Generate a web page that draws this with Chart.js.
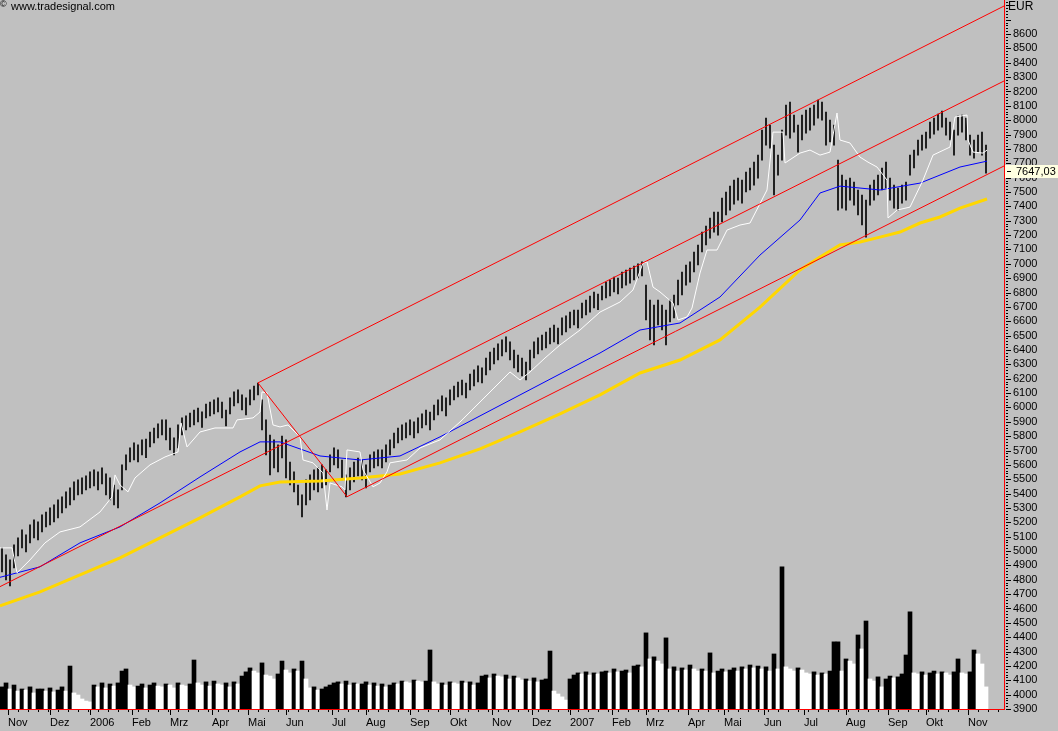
<!DOCTYPE html>
<html>
<head>
<meta charset="utf-8">
<title>DAX</title>
<script src="https://cdn.jsdelivr.net/npm/chart.js@4.4.0/dist/chart.umd.min.js"></script>
<style>
  html, body { margin: 0; padding: 0; background: #c0c0c0; overflow: hidden; }
  canvas { display: block; }
</style>
</head>
<body>
<canvas id="chart" width="1058" height="731"></canvas>
<script>
// bars: one bar every 2 trading days, starting end of Oct 2005
const highs = [
  5022, 4973, 4938, 5043, 5092, 5147, 5112, 5182, 5217, 5203,
  5252, 5272, 5300, 5321, 5356, 5377, 5412, 5440, 5481, 5495,
  5509, 5523, 5551, 5565, 5551, 5579, 5537, 5509, 5460, 5426,
  5600, 5669, 5718, 5753, 5739, 5774, 5780, 5829, 5857, 5885,
  5913, 5913, 5857, 5788, 5878, 5927, 5941, 5961, 5982, 5996,
  5970, 6024, 6038, 6052, 6066, 6038, 5982, 6066, 6108, 6122,
  6087, 6066, 6122, 6149, 6170, 6052, 5913, 5808, 5774, 5739,
  5801, 5774, 5620, 5551, 5460, 5391, 5495, 5530, 5565, 5579,
  5600, 5565, 5669, 5718, 5704, 5634, 5530, 5579, 5620, 5648,
  5634, 5600, 5669, 5690, 5704, 5704, 5739, 5774, 5822, 5857,
  5878, 5892, 5913, 5899, 5927, 5955, 5982, 5968, 6017, 6052,
  6080, 6066, 6122, 6149, 6177, 6191, 6170, 6233, 6261, 6289,
  6275, 6344, 6386, 6414, 6442, 6470, 6491, 6456, 6400, 6365,
  6344, 6316, 6400, 6456, 6484, 6504, 6525, 6553, 6574, 6553,
  6623, 6637, 6664, 6678, 6678, 6727, 6748, 6776, 6804, 6790,
  6845, 6873, 6887, 6908, 6900, 6943, 6957, 6971, 6985, 6999,
  7013, 6852, 6748, 6713, 6748, 6713, 6678, 6748, 6783, 6887,
  6943, 6992, 7013, 7082, 7131, 7221, 7263, 7319, 7360, 7360,
  7458, 7500, 7541, 7583, 7597, 7583, 7639, 7667, 7708, 7757,
  7931, 8015, 7966, 7827, 7757, 7931, 8105, 8126, 8036, 7966,
  8036, 8070, 8084, 8105, 8140, 8126, 8056, 8001, 7966, 7722,
  7618, 7583, 7597, 7569, 7514, 7479, 7444, 7548, 7583, 7618,
  7667, 7708, 7597, 7548, 7528, 7548, 7569, 7757, 7792, 7862,
  7896, 7917, 7987, 8015, 8043, 8063, 8015, 7987, 7931, 8029,
  8036, 8015, 7896, 7862, 7896, 7917, 7827
];
const lows = [
  4855, 4799, 4757, 4883, 4966, 5022, 4994, 5057, 5092, 5078,
  5133, 5168, 5182, 5203, 5231, 5265, 5300, 5321, 5356, 5391,
  5398, 5426, 5440, 5454, 5426, 5467, 5391, 5356, 5321, 5300,
  5426, 5565, 5620, 5634, 5620, 5669, 5650, 5725, 5753, 5788,
  5808, 5774, 5704, 5669, 5718, 5808, 5843, 5864, 5878, 5899,
  5860, 5927, 5941, 5955, 5968, 5927, 5871, 5955, 6010, 6031,
  5982, 5948, 6017, 6052, 6087, 5843, 5669, 5530, 5579, 5551,
  5648, 5509, 5460, 5412, 5321, 5238, 5321, 5356, 5426, 5412,
  5440, 5460, 5551, 5600, 5579, 5495, 5377, 5426, 5481, 5523,
  5495, 5440, 5551, 5579, 5593, 5579, 5620, 5669, 5718, 5753,
  5774, 5788, 5808, 5788, 5822, 5857, 5878, 5843, 5913, 5948,
  5975, 5941, 6017, 6052, 6073, 6087, 6066, 6122, 6149, 6177,
  6170, 6226, 6261, 6303, 6330, 6358, 6386, 6330, 6275, 6247,
  6219, 6191, 6261, 6344, 6372, 6400, 6414, 6442, 6456, 6442,
  6504, 6525, 6553, 6574, 6553, 6623, 6644, 6664, 6692, 6680,
  6748, 6762, 6776, 6804, 6790, 6832, 6852, 6866, 6887, 6901,
  6915, 6609, 6470, 6435, 6574, 6539, 6435, 6595, 6623, 6713,
  6783, 6852, 6873, 6943, 6992, 7082, 7131, 7179, 7221, 7200,
  7291, 7340, 7374, 7416, 7444, 7423, 7500, 7514, 7548, 7597,
  7722, 7827, 7806, 7479, 7618, 7722, 7896, 7875, 7917, 7778,
  7862, 7910, 7931, 7966, 8015, 8001, 7827, 7848, 7827, 7374,
  7388, 7374, 7444, 7409, 7340, 7270, 7186, 7409, 7444, 7479,
  7514, 7528, 7444, 7388, 7374, 7423, 7444, 7618, 7667, 7757,
  7792, 7806, 7875, 7903, 7931, 7952, 7896, 7862, 7757, 7896,
  7917, 7862, 7757, 7736, 7778, 7757, 7632
];
// volume in millions, same slots as the bars
const volume = [
  106, 125, 96, 115, 86, 96, 91, 106, 77, 96,
  96, 86, 101, 82, 91, 106, 86, 206, 77, 67,
  48, 38, 34, 115, 106, 125, 101, 120, 110, 125,
  182, 192, 115, 106, 110, 120, 101, 115, 125, 110,
  106, 120, 115, 101, 125, 115, 110, 120, 235, 125,
  115, 130, 110, 134, 120, 115, 125, 106, 130, 120,
  158, 178, 197, 182, 173, 221, 163, 158, 144, 168,
  230, 187, 173, 192, 182, 230, 144, 101, 106, 91,
  96, 106, 115, 125, 130, 120, 134, 115, 125, 120,
  120, 130, 115, 125, 110, 120, 106, 115, 125, 120,
  134, 130, 125, 139, 134, 130, 134, 283, 130, 120,
  125, 115, 130, 125, 120, 134, 125, 130, 115, 125,
  158, 163, 149, 168, 158, 154, 163, 144, 158, 149,
  139, 144, 134, 149, 130, 139, 144, 278, 86, 72,
  58, 43, 144, 163, 173, 168, 178, 163, 173, 168,
  178, 182, 173, 192, 178, 182, 187, 173, 206, 211,
  202, 365, 240, 250, 230, 216, 341, 192, 202, 182,
  197, 187, 211, 192, 182, 192, 182, 269, 173, 182,
  192, 178, 187, 197, 182, 202, 192, 211, 197, 206,
  192, 202, 182, 264, 192, 682, 202, 192, 182, 197,
  187, 173, 168, 178, 163, 173, 168, 182, 322, 322,
  182, 240, 230, 216, 355, 288, 422, 144, 134, 154,
  106, 144, 158, 149, 154, 168, 259, 466, 173, 168,
  178, 163, 173, 182, 168, 178, 173, 163, 178, 240,
  173, 168, 178, 283, 264, 216, 106
];
const lastClose = 7647.03;

// moving averages, read at trading-day positions
const whiteDays = [0, 6, 8.5, 15, 22.5, 30, 40, 50, 56, 57.5, 60, 64, 67.5, 75, 82.5, 89, 90.5, 93.5, 100, 107.5,
  116.5, 118.5, 126.5, 130, 131, 133.5, 136.5, 140, 144, 150, 151.5, 156.5, 161.5, 163.5, 165, 171, 172.5, 173.5,
  180, 181.5, 186.5, 190, 193.5, 195, 203.5, 210, 220, 230, 240, 250, 255, 260, 265, 272.5, 280, 290, 300, 310,
  316.5, 321.5, 323.5, 326.5, 330, 336.5, 339, 343.5, 346, 350, 353.5, 358.5, 363.5, 370, 375, 383.5, 386.5,
  391.5, 392.5, 400, 405, 410, 415, 418.5, 420, 425, 430, 434, 438.5, 443.5, 444, 448.5, 455, 461.5, 466.5,
  475, 477.5, 483.5, 484, 486.5, 491.5, 493.5];
const whiteVals = [5022, 5022, 4848, 4938, 5057, 5133, 5168, 5272, 5377, 5530, 5460, 5412, 5509, 5600, 5655, 5690, 5892, 5725, 5829, 5857,
  5857, 5913, 5927, 5968, 6108, 6101, 5878, 5864, 5878, 5794, 5634, 5614, 5544, 5286, 5474, 5447, 5426, 5704,
  5690, 5565, 5447, 5474, 5551, 5614, 5634, 5718, 5774, 5899, 6038, 6177, 6247, 6191, 6247, 6344, 6435, 6539, 6664, 6734,
  6818, 7006, 7013, 6838, 6804, 6727, 6609, 6630, 6692, 6936, 7096, 7096, 7235, 7270, 7284, 7514, 7917,
  7917, 7702, 7771, 7792, 7757, 7778, 8050, 7862, 7841, 7743, 7708, 7674, 7583, 7319, 7374, 7395, 7583, 7757,
  7813, 8022, 8036, 7862, 7778, 7771, 7792];
const blueDays = [0, 20, 40, 60, 80, 100, 120, 130, 140, 160, 180, 200, 220, 240, 260, 280, 300, 320, 340, 360, 380, 400, 410, 420, 440, 460, 480, 493.5];
const blueVals = [4817, 4890, 5057, 5168, 5335, 5516, 5690, 5760, 5760, 5662, 5634, 5662, 5795, 5941, 6087, 6233, 6379, 6539, 6588, 6769, 7061, 7305, 7493, 7541, 7514, 7562, 7674, 7715];
const goldDays = [0, 20, 40, 60, 80, 100, 120, 130, 140, 160, 180, 200, 220, 240, 260, 280, 300, 320, 340, 360, 380, 400, 410, 420, 430, 440, 450, 460, 470, 480, 493.5];
const goldVals = [4618, 4716, 4834, 4952, 5092, 5231, 5377, 5454, 5481, 5488, 5509, 5537, 5614, 5711, 5829, 5955, 6087, 6240, 6330, 6470, 6699, 6957, 7047, 7131, 7152, 7186, 7221, 7284, 7326, 7388, 7451];

// trend channel anchors [day, value]
const channelMid = [[0, 4752], [502, 8273]];
const channelTop = [[129, 6171], [502, 8795]];
const channelLow = [[173.5, 5378], [502, 7681]];
const channelDrop = [[129, 6171], [173.5, 5378]];

// month ticks (trading day of month start)
const monthDays = [4, 25, 45, 66, 85, 106, 124, 143, 166, 183, 205, 225, 246, 266, 285, 306, 323, 344, 362, 382, 402, 423, 444, 463, 484];
const monthLabels = ['Nov', 'Dez', '2006', 'Feb', 'Mrz', 'Apr', 'Mai', 'Jun', 'Jul', 'Aug', 'Sep', 'Okt',
  'Nov', 'Dez', '2007', 'Feb', 'Mrz', 'Apr', 'Mai', 'Jun', 'Jul', 'Aug', 'Sep', 'Okt', 'Nov'];

const FONT = "'Liberation Sans', Arial, sans-serif";
Chart.defaults.font.family = FONT;
Chart.defaults.font.size = 11;
Chart.defaults.color = '#000';

const dayOf = i => 2 * i + 1;
const pairs = (days, vals) => days.map((d, i) => ({ x: d, y: vals[i] }));
const anchors = arr => arr.map(p => ({ x: p[0], y: p[1] }));

const priceData = highs.map((h, i) => ({ x: dayOf(i), y: [lows[i], h] }));
const volData = volume.map((v, i) => ({ x: dayOf(i), y: v }));
// black when volume rises against the previous bar, white when it falls
const volColors = volume.map((v, i) => (i === 0 || v >= volume[i - 1] ? '#000' : '#fff'));

function redLine(data) {
  return {
    type: 'line', data: anchors(data), borderColor: '#ff0000', borderWidth: 1,
    pointRadius: 0, yAxisID: 'y', order: 1
  };
}

const decor = {
  id: 'decor',
  beforeDraw(chart) {
    const ctx = chart.ctx;
    ctx.save();
    ctx.fillStyle = '#c0c0c0';
    ctx.fillRect(0, 0, chart.width, chart.height);
    ctx.restore();
  },
  afterDraw(chart) {
    const { ctx, chartArea } = chart;
    const x = chart.scales.x, y = chart.scales.y;
    ctx.save();
    ctx.strokeStyle = '#000';
    ctx.lineWidth = 1;
    // price axis ticks: dots every 20, dashes every 100
    for (let v = 3900; v <= 8820; v += 20) {
      const py = Math.round(y.getPixelForValue(v)) + 0.5;
      const len = v % 100 === 0 ? 5 : 2;
      ctx.beginPath();
      ctx.moveTo(chartArea.right + 2, py);
      ctx.lineTo(chartArea.right + 2 + len, py);
      ctx.stroke();
    }
    // time axis ticks: weeks and months
    for (let d = monthDays[0] % 5; d < 500; d += 5) {
      const px = Math.round(x.getPixelForValue(d)) + 0.5;
      ctx.beginPath();
      ctx.moveTo(px, chartArea.bottom + 1);
      ctx.lineTo(px, chartArea.bottom + 3);
      ctx.stroke();
    }
    monthDays.forEach(d => {
      const px = Math.round(x.getPixelForValue(d)) + 0.5;
      ctx.beginPath();
      ctx.moveTo(px, chartArea.bottom + 1);
      ctx.lineTo(px, chartArea.bottom + 6);
      ctx.stroke();
    });
    // last price box
    const py = Math.round(y.getPixelForValue(lastClose));
    ctx.fillStyle = '#ffffe1';
    ctx.fillRect(chartArea.right + 1, py - 6, 53, 13);
    ctx.beginPath();
    ctx.moveTo(chartArea.right + 3, py + 0.5);
    ctx.lineTo(chartArea.right + 7, py + 0.5);
    ctx.stroke();
    ctx.fillStyle = '#000';
    ctx.font = '11px ' + FONT;
    ctx.textBaseline = 'middle';
    ctx.textAlign = 'left';
    ctx.fillText(lastClose.toFixed(2).replace('.', ','), chartArea.right + 12, py + 1);
    // currency + source
    ctx.textBaseline = 'top';
    ctx.font = '12px ' + FONT;
    ctx.fillText('EUR', chartArea.right + 4, 1);
    ctx.font = '9px ' + FONT;
    ctx.fillText('\u00A9', 0, 0);
    ctx.font = '11px ' + FONT;
    ctx.fillText('www.tradesignal.com', 11, 1);
    ctx.restore();
  }
};

new Chart(document.getElementById('chart'), {
  data: {
    datasets: [
      redLine(channelMid), redLine(channelTop), redLine(channelLow), redLine(channelDrop),
      {
        type: 'line', data: pairs(whiteDays, whiteVals), borderColor: '#ffffff', borderWidth: 1,
        pointRadius: 0, yAxisID: 'y', order: 2
      },
      {
        type: 'line', data: pairs(blueDays, blueVals), borderColor: '#0000ff', borderWidth: 1,
        pointRadius: 0, yAxisID: 'y', order: 2
      },
      {
        type: 'line', data: pairs(goldDays, goldVals), borderColor: '#ffd700', borderWidth: 3,
        pointRadius: 0, yAxisID: 'y', order: 2
      },
      {
        type: 'bar', data: priceData, backgroundColor: '#000', barThickness: 1,
        grouped: false, yAxisID: 'y', order: 4
      },
      {
        type: 'bar', data: volData, backgroundColor: volColors, barThickness: 4,
        grouped: false, yAxisID: 'yv', order: 5
      }
    ]
  },
  options: {
    responsive: false,
    animation: false,
    events: [],
    layout: { padding: 0 },
    plugins: { legend: { display: false }, tooltip: { enabled: false } },
    scales: {
      x: {
        type: 'linear', min: 0, max: 502, offset: false, position: 'bottom',
        grid: { drawOnChartArea: false, drawTicks: false },
        border: { color: '#ff0000', width: 1 },
        ticks: {
          align: 'start', maxRotation: 0, autoSkip: false, padding: 7,
          callback: v => monthLabels[monthDays.indexOf(v)]
        },
        afterBuildTicks: s => { s.ticks = monthDays.map(d => ({ value: d })); },
        afterFit: s => { s.height = 22; s.paddingLeft = 0; s.paddingRight = 0; }
      },
      y: {
        type: 'linear', position: 'right', min: 3900, max: 8837,
        grid: { drawOnChartArea: false, drawTicks: false },
        border: { color: '#ff0000', width: 1 },
        ticks: { autoSkip: false, padding: 9, callback: v => String(v) },
        afterBuildTicks: s => {
          const t = [];
          for (let v = 3900; v <= 8600; v += 100) t.push({ value: v });
          s.ticks = t;
        },
        afterFit: s => { s.width = 54; s.paddingTop = 0; s.paddingBottom = 0; }
      },
      yv: { type: 'linear', display: false, min: 0, max: 3400 }
    }
  },
  plugins: [decor]
});
</script>
</body>
</html>
